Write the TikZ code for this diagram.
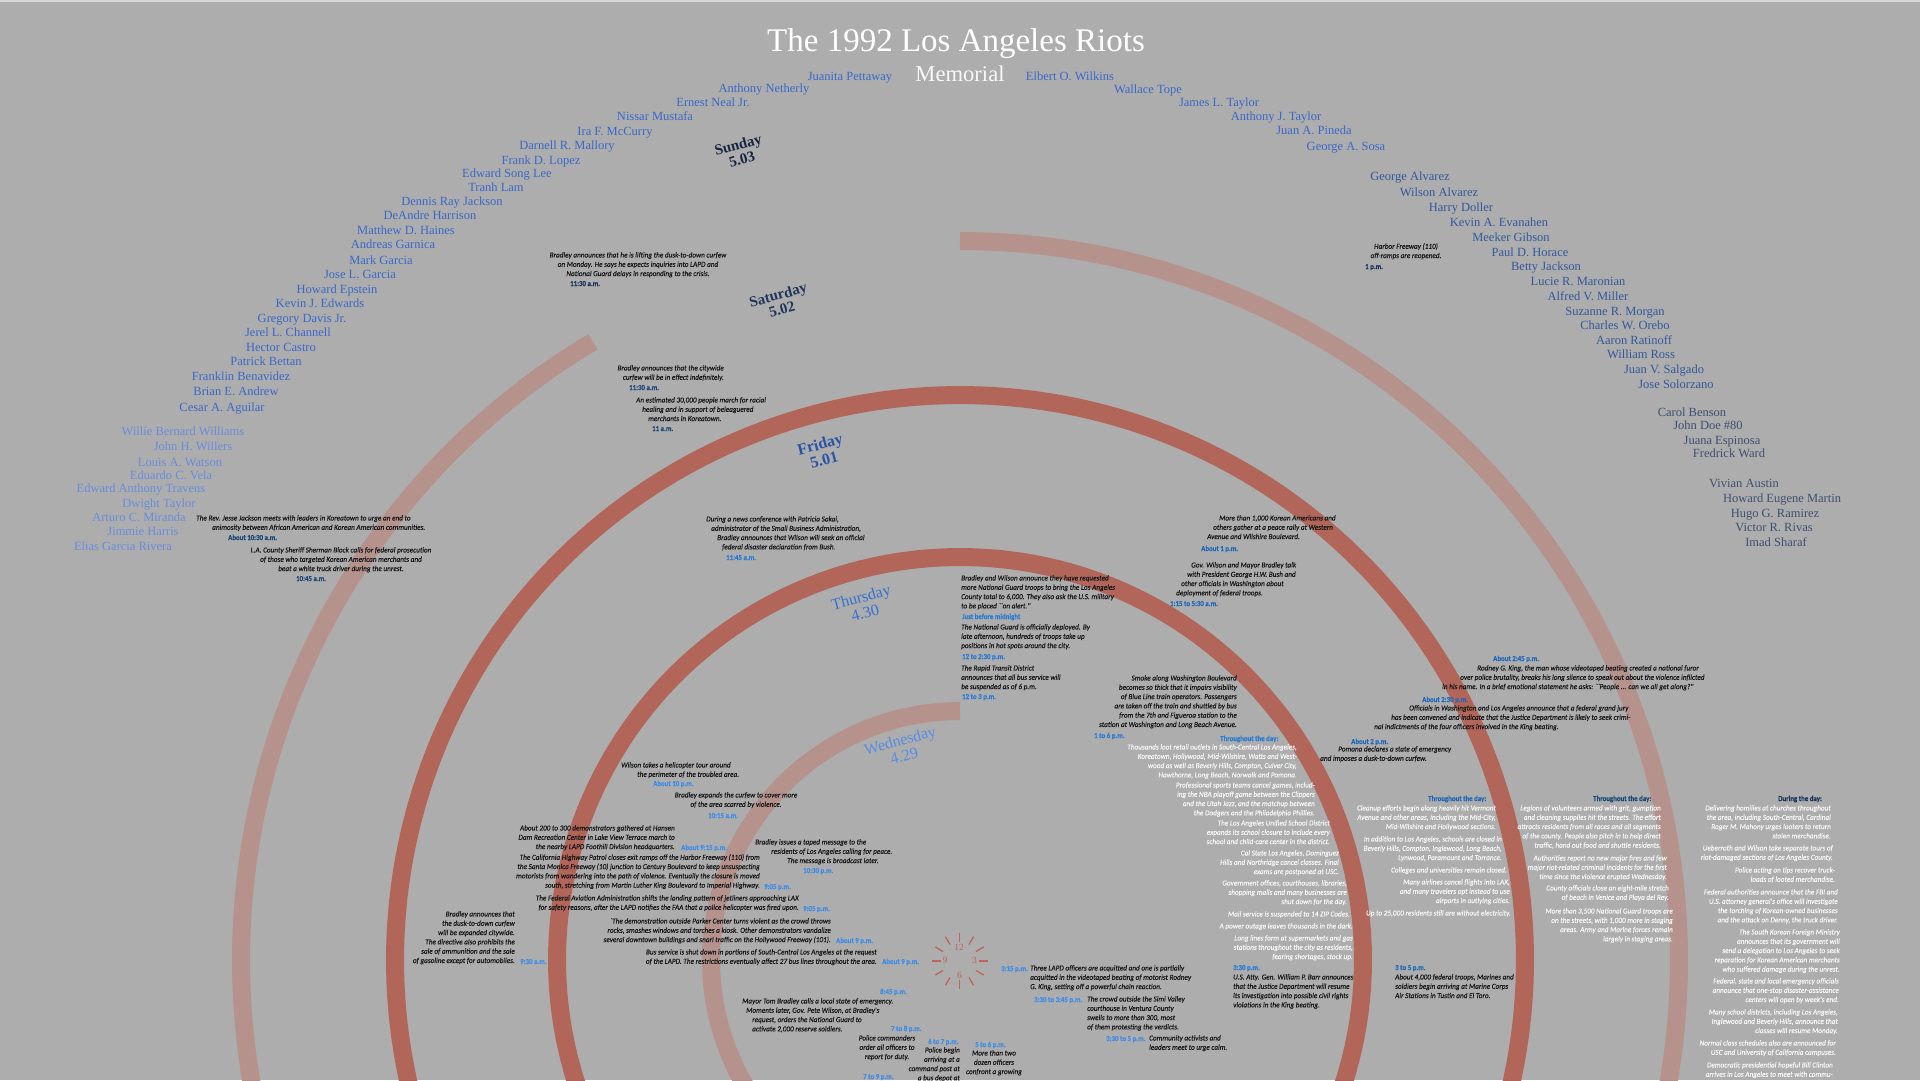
\documentclass[tikz,border=0pt]{standalone}
\usepackage{fontspec}
\setmainfont{Liberation Serif}
\newfontfamily\evfont[FakeStretch=0.95,FakeBold=0.3]{Carlito}
\newfontfamily\tmfont[FakeStretch=0.9,FakeBold=0.3]{Carlito}
\definecolor{bgray}{RGB}{173,173,173}
\definecolor{topline}{RGB}{214,214,214}
\definecolor{arcdark}{RGB}{178,101,89}
\definecolor{arclight}{RGB}{181,146,140}
\definecolor{evink}{RGB}{24,24,24}
\definecolor{evwhite}{RGB}{246,246,246}
\definecolor{tWed}{RGB}{62,140,230}
\definecolor{tThu}{RGB}{40,122,212}
\definecolor{tFri}{RGB}{30,104,186}
\definecolor{tSat}{RGB}{26,72,120}
\definecolor{tSun}{RGB}{22,50,88}
\definecolor{nmblue}{RGB}{58,104,200}
\definecolor{nmpale}{RGB}{105,140,222}
\definecolor{nmmid}{RGB}{52,88,155}
\definecolor{nmslate}{RGB}{62,80,112}
\definecolor{dSun}{RGB}{25,38,66}
\definecolor{dSat}{RGB}{32,52,92}
\definecolor{dFri}{RGB}{42,84,165}
\definecolor{dThu}{RGB}{52,112,212}
\definecolor{dWed}{RGB}{85,140,230}
\definecolor{clockred}{RGB}{190,100,88}
\newcommand{\evtext}{\evfont\itshape\fontsize{7.6}{9.3}\selectfont}
\newcommand{\evtime}{\tmfont\bfseries\fontsize{7.6}{9.3}\selectfont}
\newcommand{\nmtext}{\fontsize{12.5}{14}\selectfont}

\begin{document}
\begin{tikzpicture}[
  x=1pt,y=-1pt,
  band/.style={line width=18pt},
  dark/.style={band,draw=arcdark},
  pale/.style={band,draw=arclight},
  nm/.style={font=\nmtext,inner sep=0pt,text height=9pt,text depth=3pt},
  nmA/.style={nm,text=nmblue},
  nmB/.style={nm,text=nmpale},
  nmC/.style={nm,text=nmmid},
  nmD/.style={nm,text=nmslate},
  ev/.style={font=\evtext,text=evink,inner sep=0pt,align=center,anchor=north},
  evL/.style={ev,align=left,anchor=north west},
  evR/.style={ev,align=right,anchor=north east},
  wh/.style={evR,text=evwhite},
  tm/.style={font=\evtime,inner sep=0pt,anchor=west,text height=5.5pt,text depth=1.5pt},
  tWe/.style={tm,text=tWed},
  tTh/.style={tm,text=tThu},
  tFr/.style={tm,text=tFri},
  tSa/.style={tm,text=tSat},
  tSu/.style={tm,text=tSun},
  day/.style={font=\fontsize{16}{16}\selectfont,align=center,rotate=15,inner sep=0pt},
  clocktick/.style={draw=clockred,line width=1.3pt},
  hr/.style={font=\fontsize{9.5}{10}\selectfont,text=clockred,inner sep=0pt}
]
\useasboundingbox (0,0) rectangle (1920,1080);
\fill[bgray] (0,0) rectangle (1920,1080);
\fill[topline] (0,0) rectangle (1920,1.5);
\clip (0,0) rectangle (1920,1080);

% ---------------- day arcs, centred on the clock ----------------
\draw[pale] plot[domain=-90:-215,samples=90] ({960+249*cos(\x)},{960+249*sin(\x)});
\draw[dark] plot[domain=-200:20,samples=150] ({960+403*cos(\x)},{960+403*sin(\x)});
\draw[dark] plot[domain=-195:15,samples=150] ({960+565*cos(\x)},{960+565*sin(\x)});
\draw[pale] plot[domain=-90:15,samples=90] ({960+719*cos(\x)},{960+719*sin(\x)});
\draw[pale] plot[domain=-120.7:-195,samples=90] ({960+719*cos(\x)},{960+719*sin(\x)});

% ---------------- clock ----------------
\coordinate (clk) at (959.5,961);
\foreach \a in {0,30,...,330}
  \draw[clocktick] ({959.5+19*cos(\a)},{961+19*sin(\a)}) -- ({959.5+28*cos(\a)},{961+28*sin(\a)});
\node[hr] (h12) at (959,947.5) {12};
\node[hr] (h3)  at (974.5,960.5) {3};
\node[hr] (h6)  at (959.5,975) {6};
\node[hr] (h9)  at (945,960.5) {9};

% ---------------- title ----------------
\node[font=\fontsize{33}{33}\selectfont,text=white,inner sep=0pt,anchor=base] (title) at (956,51) {The 1992 Los Angeles Riots};
\node[font=\fontsize{22.6}{23}\selectfont,text=white!92!bgray,inner sep=0pt,anchor=base] (memo) at (960,81) {Memorial};

% ---------------- day labels ----------------
\node[day,text=dSun,font=\fontsize{15}{15}\selectfont\bfseries] (sun) at (740,152) {Sunday\\5.03};
\node[day,text=dSat,font=\fontsize{15}{15}\selectfont\bfseries] (sat) at (780,302) {Saturday\\5.02};
\node[day,text=dFri,font=\fontsize{16}{16}\selectfont\bfseries] (fri) at (822,452) {Friday\\5.01};
\node[day,text=dThu] (thu) at (863,605) {Thursday\\4.30};
\node[day,text=dWed] (wed) at (902,748) {Wednesday\\4.29};

% ---------------- names, left ----------------
\node[nmA] (nm1)  at (850,77)  {Juanita Pettaway};
\node[nmA] (nm2)  at (764,89)  {Anthony Netherly};
\node[nmA] (nm3)  at (713,103) {Ernest Neal Jr.};
\node[nmA] (nm4)  at (655,117) {Nissar Mustafa};
\node[nmA] (nm5)  at (615,132) {Ira F. McCurry};
\node[nmA] (nm6)  at (567,146) {Darnell R. Mallory};
\node[nmA] (nm7)  at (541,161) {Frank D. Lopez};
\node[nmA] (nm8)  at (507,174) {Edward Song Lee};
\node[nmA] (nm9)  at (496,188) {Tranh Lam};
\node[nmA] (nm10) at (452,202) {Dennis Ray Jackson};
\node[nmA] (nm11) at (430,216) {DeAndre Harrison};
\node[nmA] (nm12) at (406,231) {Matthew D. Haines};
\node[nmA] (nm13) at (393,245) {Andreas Garnica};
\node[nmA] (nm14) at (381,261) {Mark Garcia};
\node[nmA] (nm15) at (360,275) {Jose L. Garcia};
\node[nmA] (nm16) at (337,290) {Howard Epstein};
\node[nmA] (nm17) at (320,304) {Kevin J. Edwards};
\node[nmA] (nm18) at (302,319) {Gregory Davis Jr.};
\node[nmA] (nm19) at (288,333) {Jerel L. Channell};
\node[nmA] (nm20) at (281,348) {Hector Castro};
\node[nmA] (nm21) at (266,362) {Patrick Bettan};
\node[nmA] (nm22) at (241,377) {Franklin Benavidez};
\node[nmA] (nm23) at (236,392) {Brian E. Andrew};
\node[nmA] (nm24) at (222,408) {Cesar A. Aguilar};
\node[nmB] (nm25) at (183,432) {Willie Bernard Williams};
\node[nmB] (nm26) at (193,447) {John H. Willers};
\node[nmB] (nm27) at (180,463) {Louis A. Watson};
\node[nmB] (nm28) at (171,476) {Eduardo C. Vela};
\node[nmB] (nm29) at (141,489) {Edward Anthony Travens};
\node[nmB] (nm30) at (159,504) {Dwight Taylor};
\node[nmB] (nm31) at (139,518) {Arturo C. Miranda};
\node[nmB] (nm32) at (143,532) {Jimmie Harris};
\node[nmB] (nm33) at (123,547) {Elias Garcia Rivera};

% ---------------- names, right ----------------
\node[nmA] (nm34) at (1070,77)  {Elbert O. Wilkins};
\node[nmA] (nm35) at (1148,90)  {Wallace Tope};
\node[nmA] (nm36) at (1219,103) {James L. Taylor};
\node[nmA] (nm37) at (1276,117) {Anthony J. Taylor};
\node[nmA] (nm38) at (1314,131) {Juan A. Pineda};
\node[nmA] (nm39) at (1346,147) {George A. Sosa};
\node[nmC] (nm40) at (1410,177) {George Alvarez};
\node[nmC] (nm41) at (1439,193) {Wilson Alvarez};
\node[nmC] (nm42) at (1461,208) {Harry Doller};
\node[nmC] (nm43) at (1499,223) {Kevin A. Evanahen};
\node[nmC] (nm44) at (1511,238) {Meeker Gibson};
\node[nmC] (nm45) at (1530,253) {Paul D. Horace};
\node[nmC] (nm46) at (1546,267) {Betty Jackson};
\node[nmC] (nm47) at (1578,282) {Lucie R. Maronian};
\node[nmC] (nm48) at (1588,297) {Alfred V. Miller};
\node[nmC] (nm49) at (1615,312) {Suzanne R. Morgan};
\node[nmC] (nm50) at (1625,326) {Charles W. Orebo};
\node[nmC] (nm51) at (1634,341) {Aaron Ratinoff};
\node[nmC] (nm52) at (1641,355) {William Ross};
\node[nmC] (nm53) at (1664,370) {Juan V. Salgado};
\node[nmC] (nm54) at (1676,385) {Jose Solorzano};
\node[nmD] (nm55) at (1692,413) {Carol Benson};
\node[nmD] (nm56) at (1708,426) {John Doe \#80};
\node[nmD] (nm57) at (1722,441) {Juana Espinosa};
\node[nmD] (nm58) at (1729,454) {Fredrick Ward};
\node[nmD] (nm59) at (1744,484) {Vivian Austin};
\node[nmD] (nm60) at (1782,499) {Howard Eugene Martin};
\node[nmD] (nm61) at (1775,514) {Hugo G. Ramirez};
\node[nmD] (nm62) at (1774,528) {Victor R. Rivas};
\node[nmD] (nm63) at (1776,543) {Imad Sharaf};

% ---------------- Sunday ----------------
\node[ev] (su1) at (638,252) {Bradley announces that he is lifting the dusk-to-down curfew\\on Monday. He says he expects inquiries into LAPD and\\National Guard delays in responding to the crisis.};
\node[tSu] (su1t) at (570,284) {11:30 a.m.};
\node[ev] (su2) at (1406,243) {Harbor Freeway (110)\\off-ramps are reopened.};
\node[tSu] (su2t) at (1365,267) {1 p.m.};
\node[tSu] (su3t) at (1778,799) {During the day:};
\node[wh] (su3a) at (1831,805) {Delivering homilies at churches throughout\\the area, including South-Central, Cardinal\\Roger M. Mahony urges looters to return\\stolen merchandise.};
\node[wh] (su3b) at (1833,845) {Ueberroth and Wilson take separate tours of\\riot-damaged sections of Los Angeles County.};
\node[wh] (su3c) at (1835,867) {Police acting on tips recover truck-\\loads of looted merchandise.};
\node[wh] (su3d) at (1838,889) {Federal authorities announce that the FBI and\\U.S. attorney general's office will investigate\\the torching of Korean-owned businesses\\and the attack on Denny, the truck driver.};
\node[wh] (su3e) at (1840,929) {The South Korean Foreign Ministry\\announces that its government will\\send a delegation to Los Angeles to seek\\reparation for Korean American merchants\\who suffered damage during the unrest.};
\node[wh] (su3f) at (1839,978) {Federal, state and local emergency officials\\announce that one-stop disaster-assistance\\centers will open by week's end.};
\node[wh] (su3g) at (1838,1009) {Many school districts, including Los Angeles,\\Inglewood and Beverly Hills, announce that\\classes will resume Monday.};
\node[wh] (su3h) at (1836,1040) {Normal class schedules also are announced for\\USC and University of California campuses.};
\node[wh] (su3i) at (1833,1062) {Democratic presidential hopeful Bill Clinton\\arrives in Los Angeles to meet with commu-};

% ---------------- Saturday ----------------
\node[evR] (sa1) at (724,365) {Bradley announces that the citywide\\curfew will be in effect indefinitely.};
\node[tSa] (sa1t) at (629,388) {11:30 a.m.};
\node[evL] (sa2) at (636,397) {An estimated 30,000 people march for racial\\\hspace*{6pt}healing and in support of beleaguered\\\hspace*{12pt}merchants in Koreatown.};
\node[tSa] (sa2t) at (652,429) {11 a.m.};
\node[tSa] (sa3t) at (1593,799) {Throughout the day:};
\node[wh] (sa3a) at (1661,805) {Legions of volunteers armed with grit, gumption\\and cleaning supplies hit the streets. The effort\\attracts residents from all races and all segments\\of the county. People also pitch in to help direct\\traffic, hand out food and shuttle residents.};
\node[wh] (sa3b) at (1667,855) {Authorities report no new major fires and few\\major riot-related criminal incidents for the first\\time since the violence erupted Wednesday.};
\node[wh] (sa3c) at (1669,885) {County officials close an eight-mile stretch\\of beach in Venice and Playa del Rey.};
\node[wh] (sa3d) at (1673,908) {More than 3,500 National Guard troops are\\on the streets, with 1,000 more in staging\\areas. Army and Marine forces remain\\largely in staging areas.};

% ---------------- Friday ----------------
\node[evL] (fr1) at (196,515) {The Rev. Jesse Jackson meets with leaders in Koreatown to urge an end to\\\hspace*{16pt}animosity between African American and Korean American communities.};
\node[tSa] (fr1t) at (228,538) {About 10:30 a.m.};
\node[ev] (fr2) at (341,547) {L.A. County Sheriff Sherman Block calls for federal prosecution\\of those who targeted Korean American merchants and\\beat a white truck driver during the unrest.};
\node[tSa] (fr2t) at (296,579) {10:45 a.m.};
\node[evL] (fr3) at (706,516) {During a news conference with Patricia Sakai,\\\hspace*{5pt}administrator of the Small Business Administration,\\\hspace*{11pt}Bradley announces that Wilson will seek an official\\\hspace*{16pt}federal disaster declaration from Bush.};
\node[tTh] (fr3t) at (726,558) {11:45 a.m.};
\node[evL] (fr4) at (1207,515) {\hspace*{12pt}More than 1,000 Korean Americans and\\\hspace*{6pt}others gather at a peace rally at Western\\Avenue and Wilshire Boulevard.};
\node[tFr] (fr4t) at (1201,549) {About 1 p.m.};
\node[evL] (fr5) at (1176,562) {\hspace*{15pt}Gov. Wilson and Mayor Bradley talk\\\hspace*{11pt}with President George H.W. Bush and\\\hspace*{5pt}other officials in Washington about\\deployment of federal troops.};
\node[tFr] (fr5t) at (1170,604) {1:15 to 5:30 a.m.};
\node[tFr] (fr6t) at (1493,659) {About 2:45 p.m.};
\node[evL] (fr6) at (1442,665) {\hspace*{35pt}Rodney G. King, the man whose videotaped beating created a national furor\\\hspace*{18pt}over police brutality, breaks his long silence to speak out about the violence inflicted\\in his name. In a brief emotional statement he asks: ``People ... can we all get along?''};
\node[tFr] (fr7t) at (1422,700) {About 2:30 p.m.};
\node[evL] (fr7) at (1374,705) {\hspace*{35pt}Officials in Washington and Los Angeles announce that a federal grand jury\\\hspace*{17pt}has been convened and indicate that the Justice Department is likely to seek crimi-\\nal indictments of the four officers involved in the King beating.};
\node[tFr] (fr8t) at (1351,742) {About 2 p.m.};
\node[evL] (fr8) at (1320,746) {\hspace*{18pt}Pomona declares a state of emergency\\and imposes a dusk-to-down curfew.};
\node[tFr] (fr9t) at (1428,799) {Throughout the day:};
\node[wh] (fr9a) at (1496,805) {Cleanup efforts begin along heavily hit Vermont\\Avenue and other areas, including the Mid-City,\\Mid-Wilshire and Hollywood sections.};
\node[wh] (fr9b) at (1502,836) {In addition to Los Angeles, schools are closed in\\Beverly Hills, Compton, Inglewood, Long Beach,\\Lynwood, Paramount and Torrance.};
\node[wh] (fr9c) at (1507,867) {Colleges and universities remain closed.};
\node[wh] (fr9d) at (1510,879) {Many airlines cancel flights into LAX,\\and many travelers opt instead to use\\airports in outlying cities.};
\node[wh] (fr9e) at (1511,910) {Up to 25,000 residents still are without electricity.};
\node[tFr] (fr10t) at (1395,968) {3 to 5 p.m.};
\node[evL] (fr10) at (1395,974) {About 4,000 federal troops, Marines and\\soldiers begin arriving at Marine Corps\\Air Stations in Tustin and El Toro.};

% ---------------- Thursday ----------------
\node[evL] (th1) at (961,575) {Bradley and Wilson announce they have requested\\more National Guard troops to bring the Los Angeles\\County total to 6,000. They also ask the U.S. military\\to be placed ``on alert.''};
\node[tTh] (th1t) at (962,617) {Just before midnight};
\node[evL] (th2) at (961,624) {The National Guard is officially deployed. By\\late afternoon, hundreds of troops take up\\positions in hot spots around the city.};
\node[tTh] (th2t) at (962,657) {12 to 2:30 p.m.};
\node[evL] (th3) at (961,665) {The Rapid Transit District\\announces that all bus service will\\be suspended as of 6 p.m.};
\node[tTh] (th3t) at (962,697) {12 to 3 p.m.};
\node[evR] (th4) at (1237,675) {Smoke along Washington Boulevard\\becomes so thick that it impairs visibility\\of Blue Line train operators. Passengers\\are taken off the train and shuttled by bus\\from the 7th and Figueroa station to the\\station at Washington and Long Beach Avenue.};
\node[tTh] (th4t) at (1094,736) {1 to 6 p.m.};
\node[tTh] (th5t) at (1220,739) {Throughout the day:};
\node[wh] (th5a) at (1297,744) {Thousands loot retail outlets in South-Central Los Angeles,\\Koreatown, Hollywood, Mid-Wilshire, Watts and West-\\wood as well as Beverly Hills, Compton, Culver City,\\Hawthorne, Long Beach, Norwalk and Pomona.};
\node[wh] (th5b) at (1315,782) {Professional sports teams cancel games, includ-\\ing the NBA playoff game between the Clippers\\and the Utah Jazz, and the matchup between\\the Dodgers and the Philadelphia Phillies.};
\node[wh] (th5c) at (1330,820) {The Los Angeles Unified School District\\expands its school closure to include every\\school and child-care center in the district.};
\node[wh] (th5d) at (1339,850) {Cal State Los Angeles, Dominguez\\Hills and Northridge cancel classes. Final\\exams are postponed at USC.};
\node[wh] (th5e) at (1347,880) {Government offices, courthouses, libraries,\\shopping malls and many businesses are\\shut down for the day.};
\node[wh] (th5f) at (1350,911) {Mail service is suspended to 14 ZIP Codes.};
\node[wh] (th5g) at (1353,923) {A power outage leaves thousands in the dark.};
\node[wh] (th5h) at (1353,935) {Long lines form at supermarkets and gas\\stations throughout the city as residents,\\fearing shortages, stock up.};
\node[tTh] (th6t) at (1233,968) {3:30 p.m.};
\node[evL] (th6) at (1233,974) {U.S. Atty. Gen. William P. Barr announces\\that the Justice Department will resume\\its investigation into possible civil rights\\violations in the King beating.};
\node[evR] (th7) at (515,911) {Bradley announces that\\the dusk-to-down curfew\\will be expanded citywide.\\The directive also prohibits the\\sale of ammunition and the sale\\of gasoline except for automobiles.};
\node[tWe] (th7t) at (520,962) {9:30 a.m.};
\node[ev] (th8) at (736,792) {Bradley expands the curfew to cover more\\of the area scarred by violence.};
\node[tWe] (th8t) at (708,816) {10:15 a.m.};

% ---------------- Wednesday ----------------
\node[evL] (we0) at (621,762) {Wilson takes a helicopter tour around\\\hspace*{16pt}the perimeter of the troubled area.};
\node[tWe] (we0t) at (653,784) {About 10 p.m.};
\node[evR] (we1) at (675,825) {About 200 to 300 demonstrators gathered at Hansen\\Dam Recreation Center in Lake View Terrace march to\\the nearby LAPD Foothill Division headquarters.};
\node[tWe] (we1t) at (681,848) {About 9:15 p.m.};
\node[evR] (we2) at (760,854) {The California Highway Patrol closes exit ramps off the Harbor Freeway (110) from\\the Santa Monica Freeway (10) junction to Century Boulevard to keep unsuspecting\\motorists from wandering into the path of violence. Eventually the closure is moved\\south, stretching from Martin Luther King Boulevard to Imperial Highway.};
\node[tWe] (we2t) at (764,887) {9:05 p.m.};
\node[evR] (we3) at (799,895) {The Federal Aviation Administration shifts the landing pattern of jetliners approaching LAX\\for safety reasons, after the LAPD notifies the FAA that a police helicopter was fired upon.};
\node[tWe] (we3t) at (803,909) {9:05 p.m.};
\node[evR] (we4) at (831,918) {`The demonstration outside Parker Center turns violent as the crowd throws\\rocks, smashes windows and torches a kiosk. Other demonstrators vandalize\\several downtown buildings and snarl traffic on the Hollywood Freeway (101).};
\node[tWe] (we4t) at (836,941) {About 9 p.m.};
\node[evR] (we5) at (877,949) {Bus service is shut down in portions of South-Central Los Angeles at the request\\of the LAPD. The restrictions eventually affect 27 bus lines throughout the area.};
\node[tWe] (we5t) at (882,962) {About 9 p.m.};
\node[evL] (we6) at (755,839) {Bradley issues a taped message to the\\\hspace*{16pt}residents of Los Angeles calling for peace.\\\hspace*{32pt}The message is broadcast later.};
\node[tWe] (we6t) at (803,871) {10:30 p.m.};
\node[tWe] (we7t) at (880,992) {8:45 p.m.};
\node[evL] (we7) at (742,998) {Mayor Tom Bradley calls a local state of emergency.\\\hspace*{4pt}Moments later, Gov. Pete Wilson, at Bradley's\\\hspace*{10pt}request, orders the National Guard to\\\hspace*{10pt}activate 2,000 reserve soldiers.};
\node[tWe] (we8t) at (891,1029) {7 to 8 p.m.};
\node[ev] (we8) at (887,1035) {Police commanders\\order all officers to\\report for duty.};
\node[tWe] (we9t) at (863,1077) {7 to 9 p.m.};
\node[tWe] (we10t) at (928,1042) {6 to 7 p.m.};
\node[evR] (we10) at (960,1047) {Police begin\\arriving at a\\command post at\\a bus depot at};
\node[tWe] (we11t) at (975,1045) {5 to 6 p.m.};
\node[ev] (we11) at (994,1050) {More than two\\dozen officers\\confront a growing};
\node[tWe] (we12t) at (1001,969) {3:15 p.m.};
\node[evL] (we12) at (1030,965) {Three LAPD officers are acquitted and one is partially\\acquitted in the videotaped beating of motorist Rodney\\G. King, setting off a powerful chain reaction.};
\node[tWe] (we13t) at (1034,1000) {3:30 to 3:45 p.m.};
\node[evL] (we13) at (1087,996) {The crowd outside the Simi Valley\\courthouse in Ventura County\\swells to more than 300, most\\of them protesting the verdicts.};
\node[tWe] (we14t) at (1106,1039) {3:30 to 5 p.m.};
\node[evL] (we14) at (1149,1035) {Community activists and\\leaders meet to urge calm.};
\end{tikzpicture}
\end{document}
